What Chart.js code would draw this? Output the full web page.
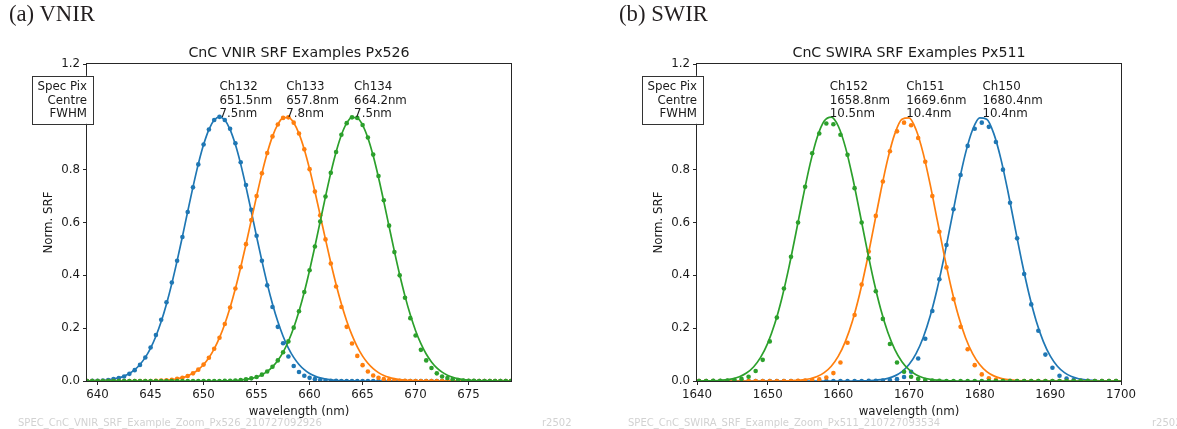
<!DOCTYPE html>
<html>
<head>
<meta charset="utf-8">
<title>CnC SRF Examples</title>
<script src="https://cdn.jsdelivr.net/npm/chart.js@4.4.1/dist/chart.umd.min.js"></script>
<style>
  html, body { margin: 0; padding: 0; background: #ffffff; }
  #fig { position: relative; width: 1177px; height: 429px; overflow: hidden; background: #ffffff; }
  #fig canvas { position: absolute; top: 0; }
  .tag { position: absolute; top: 3px; font-family: "Liberation Serif", serif; font-size: 22.7px; line-height: 1; color: #231f20; white-space: nowrap; }
  .stamp { position: absolute; top: 417.5px; font-family: "DejaVu Sans", sans-serif; font-size: 10px; line-height: 1; color: #d2d2d2; white-space: nowrap; }
</style>
</head>
<body>
<div id="fig">
  <canvas id="vnir" width="610" height="429" style="left:0;width:610px;height:429px"></canvas>
  <canvas id="swir" width="567" height="429" style="left:610px;width:567px;height:429px"></canvas>
  <div class="tag" style="left:9px">(a) VNIR</div>
  <div class="tag" style="left:619px">(b) SWIR</div>
  <div class="stamp" style="left:18px">SPEC_CnC_VNIR_SRF_Example_Zoom_Px526_210727092926</div>
  <div class="stamp" style="left:542px">r2502</div>
  <div class="stamp" style="left:628px">SPEC_CnC_SWIRA_SRF_Example_Zoom_Px511_210727093534</div>
  <div class="stamp" style="left:1152px">r2502</div>
</div>
<script>
// ---------------- VNIR, spectral pixel 526 ----------------
const vnirTitle = 'CnC VNIR SRF Examples Px526';
const vnirChannels = ['Ch132', 'Ch133', 'Ch134'];
const vnirCentres = [651.5, 657.8, 664.2];   // nm
const vnirFwhm = [7.5, 7.8, 7.5];            // nm
const vnirXTicks = [640, 645, 650, 655, 660, 665, 670, 675];
const vnirXRange = [639, 679];

// monochromator wavelengths (nm), shared by the measured points and the fitted curves
const vnirWavelength = [
  639,639.5,640,640.5,641,641.5,642,642.5,643,643.5,
  644,644.5,645,645.5,646,646.5,647,647.5,648,648.5,
  649,649.5,650,650.5,651,651.5,652,652.5,653,653.5,
  654,654.5,655,655.5,656,656.5,657,657.5,658,658.5,
  659,659.5,660,660.5,661,661.5,662,662.5,663,663.5,
  664,664.5,665,665.5,666,666.5,667,667.5,668,668.5,
  669,669.5,670,670.5,671,671.5,672,672.5,673,673.5,
  674,674.5,675,675.5,676,676.5,677,677.5,678,678.5,
  679
];

// measured normalised SRF
const vnirMeas132 = [
  0,.001,.001,.002,.004,.007,.011,.017,.027,.041,
  .061,.089,.127,.174,.232,.298,.373,.455,.545,.640,
  .733,.820,.895,.952,.988,1.0,.988,.955,.900,.828,
  .742,.648,.550,.455,.362,.280,.205,.143,.093,.057,
  .034,.020,.012,.007,.004,.002,.001,.001,0,0,
  0,0,0,0,0,0,0,0,0,0,
  0,0,0,0,0,0,0,0,0,0,
  0,0,0,0,0,0,0,0,0,0,
  0
];
const vnirMeas133 = [
  0,0,0,0,0,0,0,0,0,0,
  0,0,0,.001,.002,.003,.005,.008,.012,.019,
  .029,.043,.062,.088,.122,.164,.216,.278,.350,.431,
  .518,.609,.700,.786,.863,.926,.971,.996,.998,.978,
  .937,.877,.802,.717,.627,.536,.445,.358,.280,.205,
  .142,.095,.060,.036,.021,.012,.007,.004,.002,.001,
  .001,0,0,0,0,0,0,0,0,0,
  0,0,0,0,0,0,0,0,0,0,
  0
];
const vnirMeas134 = [
  0,0,0,0,0,0,0,0,0,0,
  0,0,0,0,0,0,0,0,0,0,
  0,0,0,0,0,0,.001,.001,.002,.004,
  .006,.010,.015,.024,.036,.054,.078,.109,.150,.202,
  .264,.337,.419,.509,.604,.698,.788,.867,.932,.976,
  .998,.996,.969,.922,.857,.776,.684,.588,.488,.400,
  .315,.238,.172,.118,.078,.049,.029,.017,.011,.007,
  .004,.002,.001,.001,0,0,0,0,0,0,
  0
];

// fitted Gaussian SRF
const vnirFit132 = [
  0,.0008,.0015,.0026,.0044,.0072,.0117,.0185,.0284,.0427,
  .0625,.0893,.1246,.1696,.2251,.2916,.3686,.4545,.5467,.6417,
  .7349,.8211,.8950,.9519,.9878,1.0,.9878,.9519,.8950,.8211,
  .7349,.6417,.5467,.4545,.3686,.2916,.2251,.1696,.1246,.0893,
  .0625,.0427,.0284,.0185,.0117,.0072,.0044,.0026,.0015,.0008,
  .0004,0,0,0,0,0,0,0,0,0,
  0,0,0,0,0,0,0,0,0,0,
  0,0,0,0,0,0,0,0,0,0,
  0
];
const vnirFit133 = [
  0,0,0,0,0,0,0,0,0,0,
  0,0,0,.0010,.0018,.0030,.0049,.0080,.0126,.0194,
  .0293,.0433,.0625,.0882,.1216,.1639,.2159,.2780,.3500,.4306,
  .5179,.6088,.6996,.7858,.8627,.9259,.9713,.9959,.9982,.9779,
  .9365,.8766,.8021,.7173,.6271,.5359,.4476,.3654,.2916,.2275,
  .1735,.1293,.0942,.0671,.0467,.0318,.0211,.0137,.0087,.0054,
  .0033,.0020,.0011,.0006,0,0,0,0,0,0,
  0,0,0,0,0,0,0,0,0,0,
  0
];
const vnirFit134 = [
  0,0,0,0,0,0,0,0,0,0,
  0,0,0,0,0,0,0,0,0,0,
  0,0,0,0,0,0,.0007,.0012,.0021,.0035,
  .0059,.0097,.0154,.0240,.0364,.0538,.0777,.1094,.1504,.2016,
  .2637,.3366,.4192,.5093,.6037,.6982,.7878,.8672,.9315,.9761,
  .9980,.9956,.9689,.9201,.8524,.7705,.6795,.5846,.4908,.4020,
  .3212,.2504,.1905,.1414,.1023,.0723,.0498,.0335,.0220,.0141,
  .0088,.0054,.0032,.0018,.0010,.0006,.0003,0,0,0,
  0
];

// ---------------- SWIR-A, spectral pixel 511 ----------------
const swirTitle = 'CnC SWIRA SRF Examples Px511';
const swirChannels = ['Ch150', 'Ch151', 'Ch152'];
const swirCentres = [1680.4, 1669.6, 1658.8];
const swirFwhm = [10.4, 10.4, 10.5];
const swirXTicks = [1640, 1650, 1660, 1670, 1680, 1690, 1700];
const swirXRange = [1640, 1700];

const swirMeasWavelength = [
  1640.3,1641.3,1642.3,1643.3,1644.3,1645.3,1646.3,1647.3,1648.3,1649.3,
  1650.3,1651.3,1652.3,1653.3,1654.3,1655.3,1656.3,1657.3,1658.3,1659.3,
  1660.3,1661.3,1662.3,1663.3,1664.3,1665.3,1666.3,1667.3,1668.3,1669.3,
  1670.3,1671.3,1672.3,1673.3,1674.3,1675.3,1676.3,1677.3,1678.3,1679.3,
  1680.3,1681.3,1682.3,1683.3,1684.3,1685.3,1686.3,1687.3,1688.3,1689.3,
  1690.3,1691.3,1692.3,1693.3,1694.3,1695.3,1696.3,1697.3,1698.3,1699.3
];
const swirMeas150 = [
  0,0,0,0,0,0,0,0,0,0,
  0,0,0,0,0,0,0,0,0,0,
  0,0,0,0,.001,.001,.002,.004,.007,.015,
  .035,.085,.160,.265,.385,.515,.650,.780,.890,.955,
  .978,.962,.905,.800,.675,.540,.405,.290,.190,.100,
  .050,.020,.009,.004,.002,.001,0,0,0,0
];
const swirMeas151 = [
  0,0,0,0,0,0,0,0,0,0,
  0,0,0,0,.001,.002,.004,.006,.013,.030,
  .070,.145,.250,.365,.490,.625,.755,.870,.945,.978,
  .968,.920,.830,.700,.565,.430,.310,.205,.120,.060,
  .025,.010,.005,.002,.001,0,0,0,0,0,
  0,0,0,0,0,0,0,0,0,0
];
const swirMeas152 = [
  0,0,.001,.001,.002,.004,.008,.016,.038,.080,
  .150,.240,.350,.470,.600,.735,.862,.937,.975,.972,
  .932,.856,.730,.600,.465,.340,.235,.140,.070,.035,
  .016,.008,.004,.002,.001,0,0,0,0,0,
  0,0,0,0,0,0,0,0,0,0,
  0,0,0,0,0,0,0,0,0,0
];

const swirFitWavelength = [
  1640,1641,1642,1643,1644,1645,1646,1647,1648,1649,
  1650,1651,1652,1653,1654,1655,1656,1657,1658,1659,
  1660,1661,1662,1663,1664,1665,1666,1667,1668,1669,
  1670,1671,1672,1673,1674,1675,1676,1677,1678,1679,
  1680,1681,1682,1683,1684,1685,1686,1687,1688,1689,
  1690,1691,1692,1693,1694,1695,1696,1697,1698,1699,
  1700
];
const swirFit150 = [
  0,0,0,0,0,0,0,0,0,0,
  0,0,0,0,0,0,0,0,0,0,
  0,0,0,.0004,.0010,.0023,.0049,.0100,.0194,.0357,
  .0625,.1038,.1639,.2457,.3500,.4735,.6088,.7436,.8627,.9510,
  .9959,.9908,.9365,.8409,.7173,.5813,.4476,.3274,.2275,.1502,
  .0942,.0561,.0318,.0171,.0087,.0042,.0020,.0009,.0004,0,
  0
];
const swirFit151 = [
  0,0,0,0,0,0,0,0,0,0,
  0,0,0,.0009,.0020,.0042,.0087,.0171,.0318,.0561,
  .0942,.1502,.2275,.3274,.4476,.5813,.7173,.8409,.9365,.9908,
  .9959,.9510,.8627,.7436,.6088,.4735,.3500,.2457,.1639,.1038,
  .0625,.0357,.0194,.0100,.0049,.0023,.0010,.0004,0,0,
  0,0,0,0,0,0,0,0,0,0,
  0
];
const swirFit152 = [
  0,.0003,.0008,.0019,.0041,.0083,.0162,.0301,.0532,.0893,
  .1427,.2165,.3126,.4291,.5602,.6955,.8211,.9218,.9840,.9990,
  .9644,.8854,.7730,.6417,.5066,.3803,.2715,.1843,.1190,.0731,
  .0427,.0237,.0125,.0063,.0030,.0014,.0006,0,0,0,
  0,0,0,0,0,0,0,0,0,0,
  0,0,0,0,0,0,0,0,0,0,
  0
];

// shared y axis
const srfYTicks = [0, 0.2, 0.4, 0.6, 0.8, 1.0, 1.2];
const srfYRange = [0, 1.2];

// ---------------- drawing ----------------
const CYCLE = ['#1f77b4', '#ff7f0e', '#2ca02c'];
const FONT = '"DejaVu Sans", sans-serif';
const INK = '#1a1a1a';

function decorPlugin(spec) {
  return {
    id: 'decor',
    afterDraw(chart) {
      const { ctx, chartArea: a, scales: { x, y } } = chart;
      ctx.save();

      // axes frame
      ctx.strokeStyle = '#262626';
      ctx.lineWidth = 1;
      ctx.strokeRect(a.left - 0.5, a.top - 0.5, a.right - a.left + 1, a.bottom - a.top + 1);

      // title
      ctx.fillStyle = INK;
      ctx.font = '14.2px ' + FONT;
      ctx.textAlign = 'center';
      ctx.textBaseline = 'alphabetic';
      ctx.fillText(spec.title, (a.left + a.right) / 2, a.top - 7);

      // axis titles
      ctx.font = '11.8px ' + FONT;
      ctx.fillText('wavelength (nm)', (a.left + a.right) / 2, a.bottom + 34);
      ctx.save();
      ctx.translate(a.left - 38, (a.top + a.bottom) / 2);
      ctx.rotate(-Math.PI / 2);
      ctx.textBaseline = 'middle';
      ctx.fillText('Norm. SRF', 0, 0);
      ctx.restore();

      // channel annotations, anchored at each centre wavelength just above SRF = 1
      const base = y.getPixelForValue(1.0);
      const lh = 13.3;
      ctx.textAlign = 'left';
      ctx.textBaseline = 'alphabetic';
      spec.channels.forEach((ch, i) => {
        const px = x.getPixelForValue(spec.centres[i]);
        const lines = [ch, spec.centres[i].toFixed(1) + 'nm', spec.fwhm[i].toFixed(1) + 'nm'];
        lines.forEach((t, k) => ctx.fillText(t, px, base - (2 - k) * lh));
      });

      // row key box at the left edge
      const keys = ['Spec Pix', 'Centre', 'FWHM'];
      const wMax = Math.max(...keys.map(k => ctx.measureText(k).width));
      const bx0 = a.left - wMax - 5.4;
      const bx1 = a.left + 5.6;
      const by0 = base - 2 * lh - 14.4;
      const by1 = base + 7;
      ctx.fillStyle = '#ffffff';
      ctx.fillRect(bx0, by0, bx1 - bx0, by1 - by0);
      ctx.strokeStyle = '#333333';
      ctx.strokeRect(Math.round(bx0) + 0.5, Math.round(by0) + 0.5, Math.round(bx1 - bx0), Math.round(by1 - by0));
      ctx.fillStyle = INK;
      ctx.textAlign = 'right';
      keys.forEach((t, k) => ctx.fillText(t, a.left, base - (2 - k) * lh));

      ctx.restore();
    }
  };
}

function buildPanel(canvasId, spec) {
  const datasets = [];
  const n = spec.channels.length;
  spec.channels.forEach((ch, i) => {
    const colour = CYCLE[i];
    datasets.push({
      label: ch + ' measured',
      data: spec.measWl.map((w, j) => ({ x: w, y: spec.meas[i][j] })),
      showLine: false,
      pointRadius: 2.3,
      pointHoverRadius: 2.3,
      pointBorderWidth: 0,
      pointBackgroundColor: colour,
      pointBorderColor: colour,
      order: 2 * (n - i)
    });
    datasets.push({
      label: ch + ' fit',
      data: spec.fitWl.map((w, j) => ({ x: w, y: spec.fits[i][j] })),
      showLine: true,
      borderColor: colour,
      borderWidth: 1.7,
      pointRadius: 0,
      pointHoverRadius: 0,
      cubicInterpolationMode: 'monotone',
      fill: false,
      order: 2 * (n - i) - 1
    });
  });

  const tickFont = { family: FONT, size: 11.8 };
  const canvas = document.getElementById(canvasId);

  new Chart(canvas, {
    type: 'scatter',
    data: { datasets },
    options: {
      responsive: false,
      animation: false,
      devicePixelRatio: 1,
      events: [],
      layout: { padding: { left: 37, right: canvas.width - 511, top: 64, bottom: 8 } },
      plugins: { legend: { display: false }, tooltip: { enabled: false }, title: { display: false } },
      scales: {
        x: {
          type: 'linear',
          min: spec.xRange[0],
          max: spec.xRange[1],
          afterBuildTicks: s => { s.ticks = spec.xTicks.map(v => ({ value: v })); },
          afterFit: s => { s.height = 40; },
          border: { display: false },
          grid: { display: true, drawOnChartArea: false, drawTicks: true, tickLength: 4, tickColor: '#262626', lineWidth: 1 },
          ticks: { font: tickFont, color: INK, padding: 3, maxRotation: 0, autoSkip: false, callback: v => String(v) }
        },
        y: {
          type: 'linear',
          min: srfYRange[0],
          max: srfYRange[1],
          afterBuildTicks: s => { s.ticks = srfYTicks.map(v => ({ value: v })); },
          afterFit: s => { s.width = 50; },
          border: { display: false },
          grid: { display: true, drawOnChartArea: false, drawTicks: true, tickLength: 4, tickColor: '#262626', lineWidth: 1 },
          ticks: { font: tickFont, color: INK, padding: 3, autoSkip: false, callback: v => Number(v).toFixed(1) }
        }
      }
    },
    plugins: [decorPlugin(spec)]
  });
}

buildPanel('vnir', {
  title: vnirTitle,
  channels: vnirChannels,
  centres: vnirCentres,
  fwhm: vnirFwhm,
  xTicks: vnirXTicks,
  xRange: vnirXRange,
  measWl: vnirWavelength,
  meas: [vnirMeas132, vnirMeas133, vnirMeas134],
  fitWl: vnirWavelength,
  fits: [vnirFit132, vnirFit133, vnirFit134]
});

buildPanel('swir', {
  title: swirTitle,
  channels: swirChannels,
  centres: swirCentres,
  fwhm: swirFwhm,
  xTicks: swirXTicks,
  xRange: swirXRange,
  measWl: swirMeasWavelength,
  meas: [swirMeas150, swirMeas151, swirMeas152],
  fitWl: swirFitWavelength,
  fits: [swirFit150, swirFit151, swirFit152]
});
</script>
</body>
</html>
